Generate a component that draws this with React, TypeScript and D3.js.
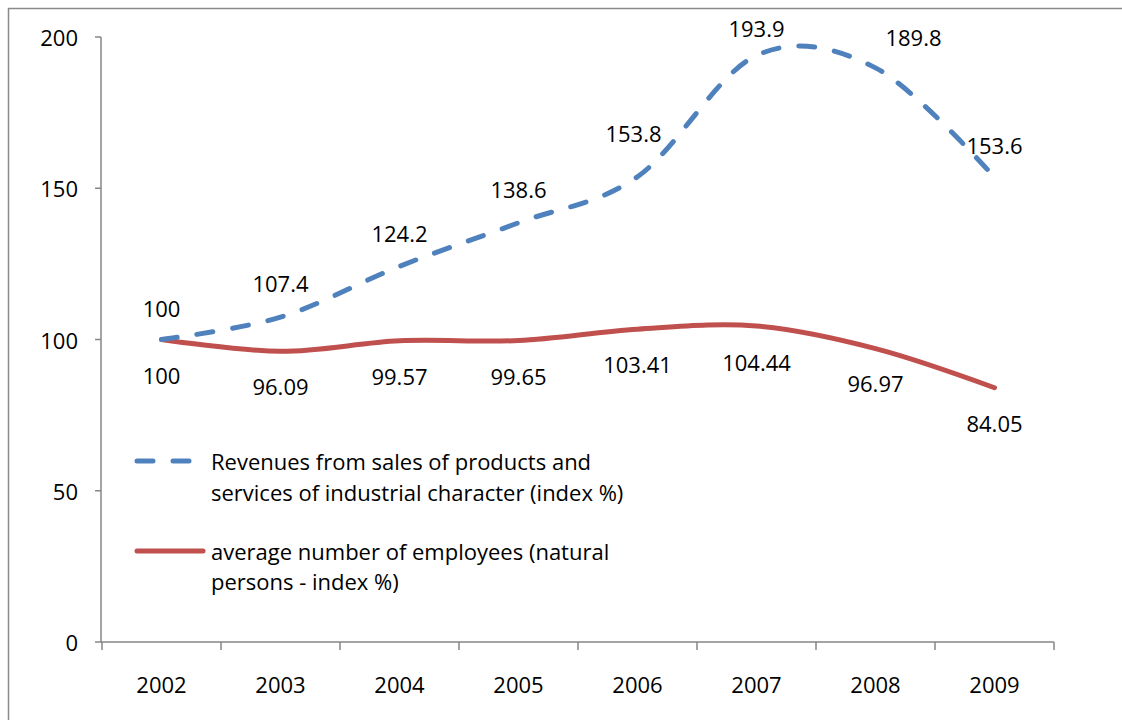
import React from "react";
import * as d3 from "d3";

const width = 1122;
const height = 720;

const years = ["2002", "2003", "2004", "2005", "2006", "2007", "2008", "2009"];
const revenues = [100, 107.4, 124.2, 138.6, 153.8, 193.9, 189.8, 153.6];
const employees = [100, 96.09, 99.57, 99.65, 103.41, 104.44, 96.97, 84.05];
const yTicks = [0, 50, 100, 150, 200];

// label nudges (some labels were moved by hand)
const revLabelDx = [0, 0, 0, 0, -4, 0, 38, 0];
const revLabelDy = [-32, -34, -33, -34, -44, -27, -31, -32];
const empLabelDy = [35, 35, 35, 35, 35, 36, 34, 35];

const font = "'Open Sans', Lato, sans-serif";
const fs = 22;
const blue = "#4F81BD";
const red = "#C0504D";
const axisGray = "#868686";

const x = d3.scaleBand().domain(years).range([102, 1054]);
const y = d3.scaleLinear().domain([0, 200]).range([642, 37]);
const cx = (i: number) => (x(years[i]) as number) + x.bandwidth() / 2;

const line = d3
  .line<number>()
  .x((_, i) => cx(i))
  .y((d) => y(d))
  .curve(d3.curveCardinal.tension(0));

const App = () => {
  const tickXs = years.map((yr) => x(yr) as number).concat([x.range()[1]]);
  return (
    <svg
      width={width}
      height={height}
      style={{ position: "absolute", left: 0, top: 0, background: "#fff" }}
      fontFamily={font}
      fontSize={fs}
      fill="#000"
    >
      <rect x={8.5} y={8.5} width={1300} height={900} fill="none" stroke="#8a8a8a" strokeWidth={1.5} />

      {/* y axis */}
      <line x1={101} x2={101} y1={y(200)} y2={y(0)} stroke={axisGray} strokeWidth={1.5} />
      {yTicks.map((t) => (
        <g key={t}>
          <line x1={95} x2={101} y1={y(t)} y2={y(t)} stroke={axisGray} strokeWidth={1.5} />
          <text x={78} y={y(t)} textAnchor="end" dominantBaseline="central">
            {t}
          </text>
        </g>
      ))}

      {/* x axis */}
      <line x1={101} x2={x.range()[1]} y1={y(0)} y2={y(0)} stroke={axisGray} strokeWidth={1.5} />
      {tickXs.map((tx, i) => (
        <line key={i} x1={tx} x2={tx} y1={y(0)} y2={y(0) + 8} stroke={axisGray} strokeWidth={1.5} />
      ))}
      {years.map((yr, i) => (
        <text key={yr} x={cx(i)} y={684} textAnchor="middle" dominantBaseline="central">
          {yr}
        </text>
      ))}

      {/* series */}
      <path d={line(employees) ?? ""} fill="none" stroke={red} strokeWidth={5} strokeLinecap="round" />
      <path
        d={line(revenues) ?? ""}
        fill="none"
        stroke={blue}
        strokeWidth={5}
        strokeDasharray="16 20"
        strokeLinecap="round"
      />

      {revenues.map((v, i) => (
        <text
          key={"r" + i}
          x={cx(i) + revLabelDx[i]}
          y={y(v) + revLabelDy[i]}
          textAnchor="middle"
          dominantBaseline="central"
        >
          {v}
        </text>
      ))}
      {employees.map((v, i) => (
        <text key={"e" + i} x={cx(i)} y={y(v) + empLabelDy[i]} textAnchor="middle" dominantBaseline="central">
          {v}
        </text>
      ))}

      {/* legend */}
      <line x1={137} x2={200} y1={461} y2={461} stroke={blue} strokeWidth={5} strokeDasharray="16 20" strokeLinecap="round" />
      <text x={211} y={461} dominantBaseline="central">
        Revenues from sales of products and
      </text>
      <text x={211} y={492} dominantBaseline="central">
        services of industrial character (index %)
      </text>
      <line x1={137} x2={203} y1={551} y2={551} stroke={red} strokeWidth={5} strokeLinecap="round" />
      <text x={211} y={551} dominantBaseline="central">
        average number of employees (natural
      </text>
      <text x={211} y={581} dominantBaseline="central">
        persons - index %)
      </text>
    </svg>
  );
};

export default App;
